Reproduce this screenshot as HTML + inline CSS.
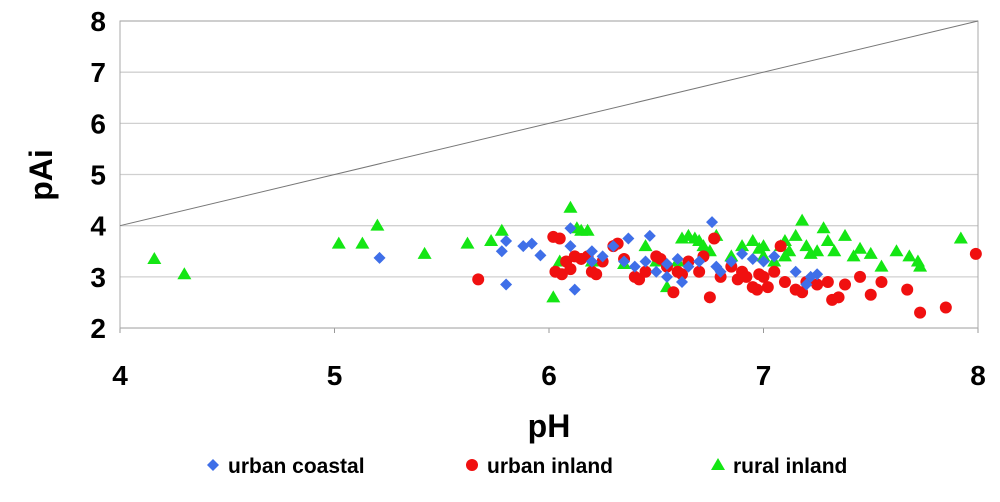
<!DOCTYPE html>
<html><head><meta charset="utf-8"><style>
body{margin:0;background:#fff;font-family:"Liberation Sans",Arial,sans-serif}
svg text{font-family:"Liberation Sans",Arial,sans-serif;font-weight:bold}
</style></head><body>
<svg id="chart" width="1000" height="497" xmlns="http://www.w3.org/2000/svg">
<g id="grid"></g><g id="axes"></g><g id="marks"></g>
<text x="52" y="175" font-size="32" text-anchor="middle" transform="rotate(-90 52 175)">pAi</text>
<text x="549" y="437" font-size="32" text-anchor="middle">pH</text>
<g>
<path d="M213 459 L219 465 L213 471 L207 465 Z" fill="#3f6fe8"/>
<text x="228" y="473" font-size="21">urban coastal</text>
<circle cx="472" cy="465" r="6" fill="#f01010"/>
<text x="487" y="473" font-size="21">urban inland</text>
<path d="M718 458 L725 470 L711 470 Z" fill="#14e614"/>
<text x="733" y="473" font-size="21">rural inland</text>
</g>
</svg>
<script>
const xTicks=[4,5,6,7,8];
const yTicks=[2,3,4,5,6,7,8];
const coastalPH=[5.21,5.8,5.78,5.8,5.88,5.92,5.96,6.1,6.12,6.1,6.2,6.25,6.3,6.35,6.37,6.4,6.45,6.47,6.5,6.55,6.6,6.62,6.65,6.7,6.76,6.78,6.8,6.85,6.9,6.95,7.0,7.05,7.15,7.2,7.22,7.25,6.2,6.55];
const coastalPAi=[3.37,2.85,3.5,3.7,3.6,3.65,3.42,3.95,2.75,3.6,3.5,3.4,3.6,3.3,3.75,3.2,3.3,3.8,3.1,3.25,3.35,2.9,3.2,3.3,4.07,3.2,3.1,3.3,3.45,3.35,3.3,3.4,3.1,2.85,3.0,3.05,3.3,3.0];
const inlandPH=[5.67,6.02,6.05,6.03,6.06,6.08,6.1,6.12,6.15,6.18,6.2,6.22,6.25,6.3,6.32,6.35,6.4,6.42,6.45,6.5,6.52,6.55,6.6,6.62,6.58,6.65,6.7,6.72,6.75,6.77,6.8,6.85,6.88,6.9,6.92,6.95,6.97,7.0,7.02,7.05,7.08,7.1,7.15,7.18,7.2,7.3,7.32,7.35,7.38,7.45,7.5,7.55,7.67,7.73,7.85,7.99,7.25,6.98];
const inlandPAi=[2.95,3.78,3.75,3.1,3.05,3.3,3.15,3.4,3.35,3.4,3.1,3.05,3.3,3.6,3.65,3.35,3.0,2.95,3.1,3.4,3.35,3.2,3.1,3.05,2.7,3.3,3.1,3.4,2.6,3.75,3.0,3.2,2.95,3.1,3.0,2.8,2.75,3.0,2.8,3.1,3.6,2.9,2.75,2.7,2.9,2.9,2.55,2.6,2.85,3.0,2.65,2.9,2.75,2.3,2.4,3.45,2.85,3.05];
const ruralPH=[4.16,4.3,5.02,5.13,5.2,5.42,5.62,5.73,5.78,6.02,6.05,6.1,6.13,6.15,6.18,6.2,6.35,6.45,6.5,6.55,6.6,6.62,6.65,6.68,6.7,6.72,6.75,6.78,6.85,6.9,6.95,6.98,7.0,7.05,7.08,7.1,7.12,7.15,7.18,7.2,7.22,7.25,7.28,7.3,7.33,7.38,7.42,7.45,7.5,7.55,7.62,7.68,7.72,7.73,7.92,7.1,7.0];
const ruralPAi=[3.35,3.05,3.65,3.65,4.0,3.45,3.65,3.7,3.9,2.6,3.3,4.35,3.95,3.9,3.9,3.3,3.25,3.6,3.3,2.8,3.3,3.75,3.8,3.75,3.7,3.6,3.5,3.8,3.4,3.6,3.7,3.55,3.4,3.3,3.6,3.7,3.5,3.8,4.1,3.6,3.45,3.5,3.95,3.7,3.5,3.8,3.4,3.55,3.45,3.2,3.5,3.4,3.3,3.2,3.75,3.4,3.6];
const NS='http://www.w3.org/2000/svg';
const X=v=>120+(v-4)*214.5;
const Y=v=>21+(8-v)*51.17;
function mk(tag,attrs,parent){const e=document.createElementNS(NS,tag);for(const k in attrs)e.setAttribute(k,attrs[k]);parent.appendChild(e);return e;}
const grid=document.getElementById('grid'),axes=document.getElementById('axes'),marks=document.getElementById('marks');
yTicks.forEach(t=>{
 const l=mk('line',{x1:X(4),x2:X(8),y1:Y(t),y2:Y(t),stroke:'#d0d0d0','stroke-width':1.3},grid);
 
 
 const tx=mk('text',{x:106,y:Y(t)+10,'font-size':28,'text-anchor':'end'},axes);tx.textContent=t;
 
 
});
xTicks.forEach(t=>{
 const tx=mk('text',{x:X(t),y:385,'font-size':28,'text-anchor':'middle'},axes);tx.textContent=t;
 
 
 const tk=mk('line',{x1:X(t),x2:X(t),y1:Y(2),y2:Y(2)+5,stroke:'#999'},axes);
 
 
});
const frame=mk('rect',{x:X(4),y:Y(8),width:X(8)-X(4),height:Y(2)-Y(8),fill:'none',stroke:'#aaa','stroke-width':1},axes);


const ref=mk('line',{x1:X(4),y1:Y(4),x2:X(8),y2:Y(8),stroke:'#777','stroke-width':1},axes);


ruralPH.forEach((p,i)=>{const x=X(p),y=Y(ruralPAi[i]);
 const e=mk('path',{d:`M${x} ${y-7}L${x+7} ${y+5}L${x-7} ${y+5}Z`,fill:'#14e614'},marks);
 
 });
inlandPH.forEach((p,i)=>{
 const e=mk('circle',{cx:X(p),cy:Y(inlandPAi[i]),r:6,fill:'#f01010'},marks);
 
 });
coastalPH.forEach((p,i)=>{const x=X(p),y=Y(coastalPAi[i]);
 const e=mk('path',{d:`M${x} ${y-6}L${x+6} ${y}L${x} ${y+6}L${x-6} ${y}Z`,fill:'#3f6fe8'},marks);
 
 });
</script>
</body></html>
